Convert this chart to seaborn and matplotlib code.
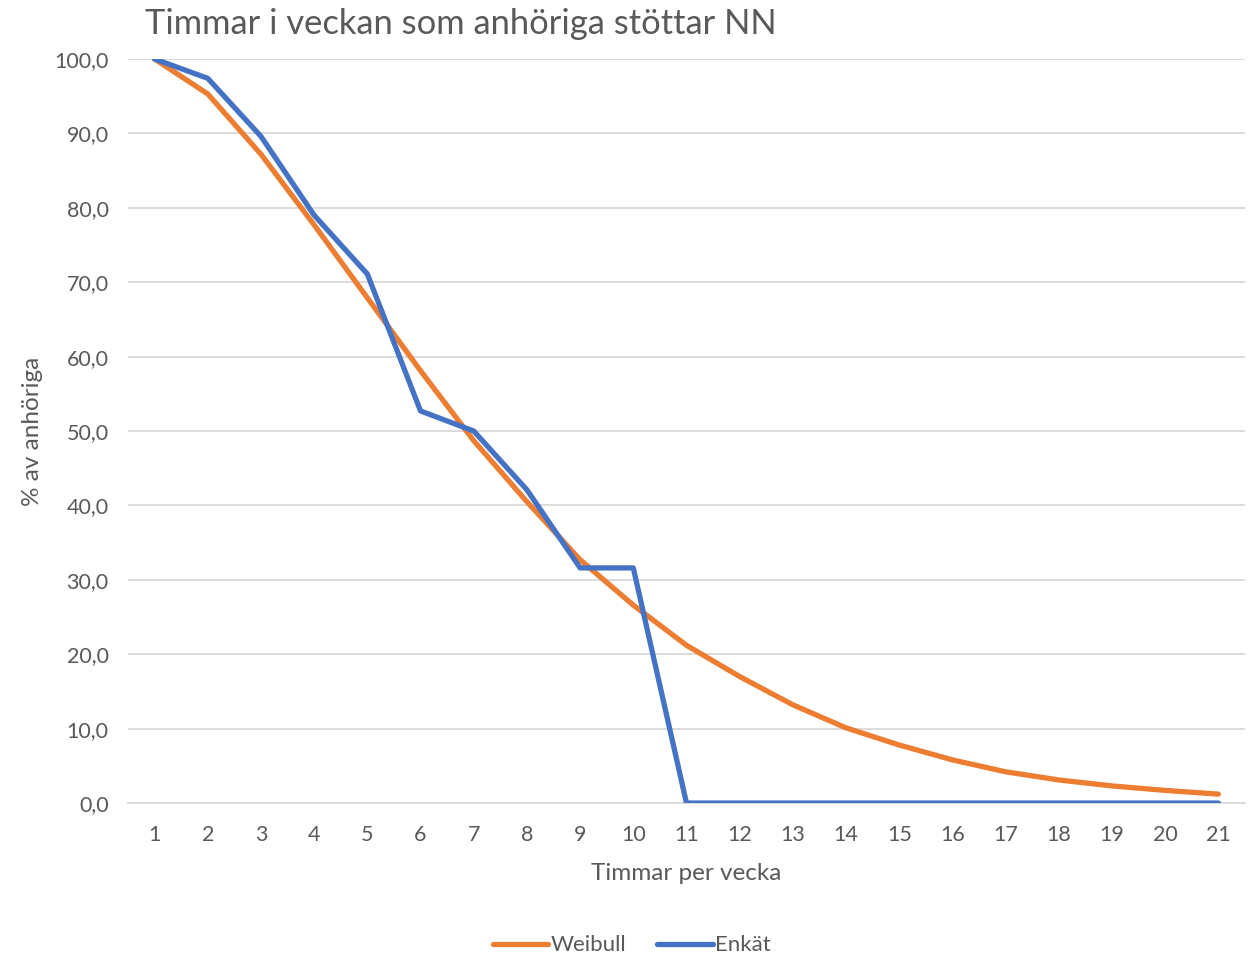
import seaborn as sns
import matplotlib.pyplot as plt
import pandas as pd

timmar = list(range(1, 22))
weibull = [100.0, 95.3, 87.2, 77.7, 67.9, 58.1, 48.7, 40.5, 32.7, 26.6, 21.2,
           17.0, 13.2, 10.1, 7.8, 5.8, 4.2, 3.1, 2.3, 1.7, 1.2]
enkat = [100.0, 97.4, 89.6, 79.0, 71.1, 52.7, 50.0, 42.1, 31.6, 31.6, 0.0,
         0.0, 0.0, 0.0, 0.0, 0.0, 0.0, 0.0, 0.0, 0.0, 0.0]
serier = ['Weibull', 'Enkät']
farger = ['#ED7D31', '#4472C4']

df = pd.DataFrame({
    'Timmar': timmar * 2,
    'Procent': weibull + enkat,
    'Serie': ['Weibull'] * len(timmar) + ['Enkät'] * len(timmar),
})

sns.set_style('white')
plt.rcParams['font.family'] = ['Lato', 'DejaVu Sans']
grey = '#595959'

fig = plt.figure(figsize=(12.51, 9.56), dpi=100)
ax = fig.add_axes([0.1023, 0.16, 0.8929, 0.7783])

sns.lineplot(data=df, x='Timmar', y='Procent', hue='Serie', hue_order=serier,
             palette=farger, linewidth=3.8, ax=ax, legend=False)

ax.set_xlim(0.5, 21.5)
ax.set_ylim(0, 100)
ax.set_xticks(timmar)
ax.set_xticklabels([str(t) for t in timmar])
yt = list(range(0, 101, 10))
ax.set_yticks(yt)
ax.set_yticklabels([f'{v:.1f}'.replace('.', ',') for v in yt])
ax.tick_params(axis='both', colors=grey, labelsize=15.5, length=0)
ax.tick_params(axis='x', pad=16)
ax.tick_params(axis='y', pad=14)
ax.yaxis.grid(True, color='#d9d9d9', linewidth=1.3)
ax.set_axisbelow(True)
for s in ['top', 'right', 'left']:
    ax.spines[s].set_visible(False)
ax.spines['bottom'].set_color('#d9d9d9')
ax.spines['bottom'].set_linewidth(1.3)
ax.spines['bottom'].set_zorder(0)

ax.set_xlabel('Timmar per vecka', color=grey, fontsize=17.5, labelpad=13)
ax.set_ylabel('% av anhöriga', color=grey, fontsize=17.5, labelpad=8)

fig.text(0.116, 0.975, 'Timmar i veckan som anhöriga stöttar NN', color=grey,
         fontsize=24.8, ha='left', va='center')

handles = [plt.Line2D([], [], color=c, linewidth=3.8) for c in farger]
fig.legend(handles, serier, loc='center', bbox_to_anchor=(0.505, 0.011),
           ncol=2, frameon=False, fontsize=16, labelcolor=grey,
           handlelength=2.5, handletextpad=0.1, columnspacing=1.4)

fig.savefig('out.png', dpi=100)
